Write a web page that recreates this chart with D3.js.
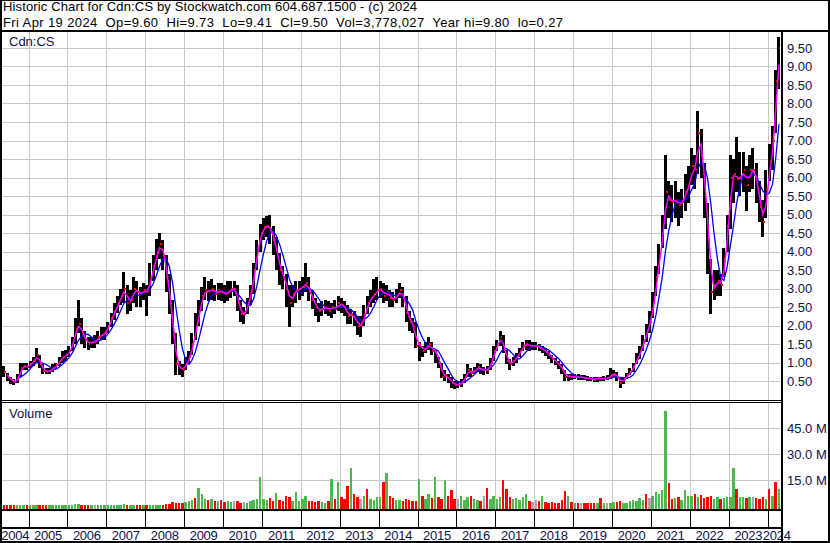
<!DOCTYPE html>
<html><head><meta charset="utf-8">
<script src="https://cdn.jsdelivr.net/npm/d3@7"></script>
<style>body{margin:0;background:#fff}svg{display:block}text{font-family:"Liberation Sans",Arial,sans-serif}</style>
</head><body><svg id="c" width="830" height="543"></svg>
<script>
// ---- DATA (monthly, May 2004 .. Apr 2024) ----
const firstMonth = [2004, 4]; // May 2004 (0-based month)
const yearLabels = ["2004","2005","2006","2007","2008","2009","2010","2011","2012","2013","2014","2015","2016","2017","2018","2019","2020","2021","2022","2023","2024"];
const priceTicks = [0.5,1,1.5,2,2.5,3,3.5,4,4.5,5,5.5,6,6.5,7,7.5,8,8.5,9,9.5];
const volumeTicks = [15,30,45];
const closes = [
 0.75,0.6,0.52,0.47,0.55,0.85,0.9,0.88,
 0.95,1.05,1.2,0.95,0.78,0.75,0.78,0.85,0.92,1.05,1.15,1.2,
 1.3,1.55,1.9,2.05,1.75,1.6,1.5,1.55,1.55,1.7,1.75,1.8,
 2.0,2.2,2.4,2.6,2.8,3.0,2.6,2.7,3.0,2.9,2.85,2.95,
 2.9,3.3,3.6,4.0,4.2,3.9,3.3,2.6,1.7,0.95,0.85,0.8,
 1.0,1.15,1.5,1.95,2.4,2.8,2.95,2.9,3.0,2.85,2.95,2.9,
 2.85,2.9,3.0,3.0,2.6,2.3,2.3,2.6,2.9,3.5,4.1,4.5,
 4.65,4.7,4.6,4.3,3.9,3.5,3.3,3.0,2.6,2.85,2.95,3.0,
 3.05,3.15,2.9,2.7,2.5,2.4,2.45,2.5,2.4,2.5,2.45,2.6,
 2.55,2.45,2.25,2.3,2.2,2.0,2.0,2.3,2.6,2.75,2.85,2.95,
 3.0,2.8,2.9,2.75,2.7,2.8,2.95,2.75,2.35,2.1,2.0,1.45,
 1.5,1.3,1.4,1.5,1.3,1.32,1.0,0.62,0.65,0.55,0.45,0.4,
 0.4,0.45,0.6,0.8,0.72,0.78,0.88,0.8,0.8,0.78,1.0,1.3,
 1.5,1.7,1.35,1.05,0.95,1.05,1.15,1.3,1.45,1.5,1.45,1.45,
 1.45,1.4,1.35,1.28,1.2,1.1,1.02,0.93,0.8,0.62,0.64,0.6,
 0.62,0.6,0.6,0.58,0.57,0.56,0.54,0.58,0.55,0.57,0.57,0.65,
 0.7,0.6,0.45,0.55,0.65,0.75,0.9,1.1,1.3,1.55,1.85,2.1,
 2.6,3.3,3.9,4.6,5.6,5.4,5.35,5.4,5.25,5.35,5.6,5.8,
 6.3,6.2,7.2,6.6,5.5,4.3,2.9,3.1,3.2,3.1,3.8,4.7,
 6.0,6.1,5.95,6.0,6.2,5.8,6.2,6.2,5.8,5.2,4.8,5.7,
 6.4,7.0,8.6,9.5
];
const highs = [
 0.9,0.72,0.62,0.55,0.7,0.98,1.0,1.0,
 1.05,1.15,1.4,1.2,0.95,0.85,0.85,0.95,1.0,1.15,1.3,1.35,
 1.45,1.7,2.2,2.7,2.2,1.85,1.7,1.7,1.75,1.85,1.95,1.95,
 2.1,2.35,2.6,2.8,3.0,3.45,3.1,2.95,3.3,3.2,3.05,3.15,
 3.1,3.7,3.9,4.35,4.5,4.3,3.9,3.4,2.7,1.8,1.05,0.95,
 1.15,1.3,1.8,2.35,2.7,3.05,3.3,3.2,3.25,3.1,3.15,3.15,
 3.1,3.2,3.2,3.2,3.1,2.7,2.5,2.75,3.1,3.7,4.3,4.75,
 4.9,4.95,5.0,4.7,4.4,3.95,3.6,3.4,3.1,3.1,3.2,3.2,
 3.3,3.7,3.3,2.95,2.75,2.6,2.65,2.7,2.65,2.6,2.7,2.8,
 2.75,2.65,2.55,2.45,2.4,2.25,2.25,2.55,2.8,2.95,3.25,3.3,
 3.2,3.15,3.1,2.95,2.9,3.0,3.15,3.05,2.8,2.4,2.2,2.1,
 1.55,1.45,1.55,1.7,1.55,1.35,1.15,1.0,0.8,0.7,0.6,0.5,
 0.5,0.55,0.7,0.95,0.85,0.88,0.98,0.95,0.88,0.9,1.12,1.45,
 1.6,1.85,1.75,1.35,1.1,1.15,1.25,1.4,1.55,1.6,1.6,1.55,
 1.55,1.5,1.45,1.4,1.3,1.2,1.12,1.05,0.95,0.8,0.68,0.68,
 0.68,0.68,0.66,0.65,0.63,0.62,0.6,0.62,0.62,0.63,0.65,0.85,
 0.8,0.75,0.6,0.62,0.72,0.85,1.0,1.25,1.45,1.75,2.05,2.4,
 2.9,3.6,4.2,5.0,6.6,5.9,5.8,5.9,5.6,5.7,6.1,6.3,
 6.8,6.6,7.8,7.3,6.4,5.3,3.8,3.5,3.5,3.4,4.1,5.0,
 6.6,6.5,7.1,6.7,6.7,6.3,6.6,6.8,6.4,5.9,5.4,6.2,
 6.9,7.4,8.9,9.8
];
const lows = [
 0.6,0.5,0.42,0.38,0.45,0.6,0.8,0.8,
 0.85,0.9,1.0,0.85,0.7,0.68,0.7,0.75,0.82,0.9,1.0,1.05,
 1.15,1.3,1.5,1.8,1.5,1.4,1.35,1.4,1.4,1.5,1.6,1.6,
 1.8,1.95,2.15,2.35,2.55,2.6,2.3,2.4,2.6,2.5,2.5,2.7,
 2.25,2.8,3.2,3.5,3.8,3.5,2.9,2.3,1.5,0.65,0.65,0.6,
 0.8,0.95,1.2,1.6,2.0,2.4,2.7,2.65,2.7,2.65,2.7,2.65,
 2.6,2.65,2.75,2.8,2.4,2.1,2.05,2.3,2.55,2.85,3.5,4.0,
 4.3,4.4,4.2,3.9,3.5,3.1,3.0,2.5,1.95,2.5,2.6,2.7,
 2.8,2.9,2.65,2.45,2.25,2.1,2.25,2.3,2.25,2.2,2.3,2.4,
 2.35,2.25,2.05,2.05,2.0,1.75,1.7,2.0,2.3,2.5,2.6,2.7,
 2.75,2.6,2.65,2.5,2.5,2.6,2.75,2.5,2.1,1.85,1.8,1.4,
 1.05,1.15,1.25,1.35,1.2,1.0,0.85,0.58,0.5,0.45,0.32,0.28,
 0.3,0.35,0.45,0.6,0.62,0.68,0.75,0.7,0.65,0.7,0.8,1.05,
 1.3,1.45,1.25,0.95,0.8,0.9,1.0,1.15,1.3,1.35,1.3,1.35,
 1.35,1.3,1.25,1.18,1.1,1.0,0.92,0.82,0.68,0.5,0.5,0.52,
 0.55,0.54,0.53,0.52,0.5,0.5,0.48,0.47,0.5,0.5,0.52,0.55,
 0.6,0.5,0.3,0.42,0.55,0.65,0.75,0.95,1.1,1.3,1.55,1.8,
 2.2,2.8,3.4,4.1,4.6,4.9,4.8,4.9,4.7,4.9,5.1,5.3,
 5.8,5.7,6.1,6.0,4.9,3.4,2.3,2.7,2.8,2.8,3.3,4.0,
 4.6,5.3,5.6,5.5,5.6,5.1,5.6,5.7,5.3,4.8,4.4,4.9,
 5.9,6.2,7.2,8.4
];
// volume in millions of shares (largest weekly volume seen in each month)
const volumes = [
 0.4,0.5,0.6,0.4,0.3,0.5,0.6,0.4,
 0.4,0.3,0.6,0.4,0.3,0.3,0.3,0.4,0.3,0.3,0.4,0.4,
 0.5,0.6,0.9,1.4,0.8,0.6,0.5,0.6,0.4,0.5,0.6,0.8,
 0.6,0.7,0.6,0.8,0.6,0.9,0.7,0.6,0.6,0.5,0.6,0.6,
 0.5,0.6,0.7,0.5,0.8,0.7,0.9,1.4,2.5,2.0,1.5,1.6,
 2.2,3.0,3.5,4.6,10.4,7.0,4.0,3.5,4.0,3.0,3.0,3.5,
 2.5,3.0,2.5,2.8,3.0,2.0,2.5,2.0,3.0,3.5,4.0,17.0,
 4.0,3.5,4.5,3.0,7.5,3.5,3.0,5.5,5.0,3.0,8.0,3.0,
 4.0,5.5,3.0,3.0,2.5,3.0,2.5,2.0,3.0,15.6,4.0,13.7,
 5.0,4.0,11.5,22.0,7.0,5.0,4.0,6.0,9.8,4.0,3.5,5.0,
 5.0,14.0,19.0,5.5,4.5,3.5,3.5,3.0,4.0,3.5,3.0,3.0,
 15.6,6.0,4.0,7.0,4.5,17.0,5.0,4.0,15.0,5.5,9.0,4.0,
 4.0,5.5,3.5,5.0,6.0,4.0,3.5,3.0,5.5,10.4,4.0,6.0,
 4.0,5.0,15.0,10.0,5.0,4.0,4.5,3.5,5.0,7.0,3.0,2.5,
 3.5,3.0,5.8,2.5,2.0,2.5,2.0,2.0,3.5,8.7,6.0,2.5,
 2.0,1.5,2.0,1.5,2.0,1.5,1.5,2.0,4.5,2.0,1.5,2.0,
 2.5,2.5,3.0,2.0,2.0,3.0,3.5,3.0,4.5,3.5,7.0,4.5,
 6.0,8.0,7.0,9.2,55.0,13.0,4.0,4.5,5.0,3.5,9.0,5.5,
 6.0,7.0,5.0,6.5,4.5,5.0,6.0,4.0,5.0,4.0,4.5,5.0,
 5.0,22.0,10.0,5.0,5.0,4.5,5.0,5.0,4.5,4.0,5.0,4.0,
 10.0,6.0,14.0,10.0
];
// volume bar colour: g = up, r = down, n = unchanged
const volumeDirection = (
 "rrrrgggr"+"gggrrrgggggg"+"ggggrrrgnggg"+"ggggggrggrrg"+"rggggrrrrrrr"+
 "gggrgggrgrgr"+"rggnrrnggggg"+"ggrrgrrrrggg"+"ggrrrrggrgrg"+"rrrgrrngrggg"+
 "grgrrggrrrrr"+"grggrgrrgrrr"+"ngggrggrnrgg"+"ggrrrgggggrn"+"nrgrrrrrrrgr"+
 "grnrrrrgrgng"+"grrgggggggrn"+"gggggrrgrggg"+"grgrrrrggrgg"+"ggrggrgnrrrg"+"rgrg").split("");
const headerLine1 = "Historic Chart for Cdn:CS by Stockwatch.com 604.687.1500 - (c) 2024";
const headerLine2 = "Fri Apr 19 2024  Op=9.60  Hi=9.73  Lo=9.41  Cl=9.50  Vol=3,778,027  Year hi=9.80  lo=0.27";

// ---- CHART ----
const W = 830, H = 543;
const svg = d3.select("#c");
const dates = closes.map((_, i) => new Date(firstMonth[0], firstMonth[1] + i, 15));
const data = dates.map((d, i) => ({d, c: closes[i], h: highs[i], l: lows[i], v: volumes[i], dir: volumeDirection[i]}));

const x = d3.scaleTime().domain([new Date(2004, 3, 27), new Date(2024, 3, 20)]).range([2, 779.5]);
const y = d3.scaleLinear().domain([0, 10]).range([399.5, 29.5]);
const yv = d3.scaleLinear().domain([0, 45]).range([506, 428]);

const plotL = 2, plotR = 780, pTop = 31.5, pBot = 400, vTop = 403, vBot = 509;
const navy = "#10104a";
const grid = "#c8c8c8";

svg.append("rect").attr("width", W).attr("height", H).attr("fill", "#fff");

const defs = svg.append("defs");
defs.append("clipPath").attr("id", "pclip").append("rect")
  .attr("x", plotL).attr("y", pTop).attr("width", plotR - plotL).attr("height", pBot - pTop);

// gridlines
const gPrice = svg.append("g").attr("shape-rendering", "crispEdges");
gPrice.selectAll("line.h").data(priceTicks).join("line")
  .attr("x1", plotL).attr("x2", plotR)
  .attr("y1", d => Math.round(y(d)) + 0.5).attr("y2", d => Math.round(y(d)) + 0.5)
  .attr("stroke", grid);
const yearStarts = yearLabels.slice(1).map(s => new Date(+s, 0, 1));
gPrice.selectAll("line.v").data(yearStarts).join("line")
  .attr("x1", d => Math.round(x(d)) + 0.5).attr("x2", d => Math.round(x(d)) + 0.5)
  .attr("y1", pTop).attr("y2", pBot).attr("stroke", grid);
gPrice.selectAll("line.vv").data(yearStarts).join("line")
  .attr("x1", d => Math.round(x(d)) + 0.5).attr("x2", d => Math.round(x(d)) + 0.5)
  .attr("y1", vTop).attr("y2", vBot).attr("stroke", grid);
gPrice.selectAll("line.hv").data(volumeTicks).join("line")
  .attr("x1", plotL).attr("x2", plotR)
  .attr("y1", d => Math.round(yv(d)) + 0.5).attr("y2", d => Math.round(yv(d)) + 0.5)
  .attr("stroke", grid);

// price bars
const gBars = svg.append("g").attr("clip-path", "url(#pclip)").attr("shape-rendering", "crispEdges");
gBars.selectAll("rect.bar").data(data).join("rect")
  .attr("x", d => x(d.d) - 1.5).attr("width", 3)
  .attr("y", d => y(d.h)).attr("height", d => Math.max(1, y(d.l) - y(d.h)))
  .attr("fill", "#000");
gBars.selectAll("rect.cl").data(data).join("rect")
  .attr("x", d => x(d.d) + 0.4).attr("width", 1.8)
  .attr("y", d => y(d.c) - 1).attr("height", 2)
  .attr("fill", "#ff0000");

// moving averages
function sma(arr, n) { return arr.map((v, i) => i < n - 1 ? null : d3.mean(arr.slice(i - n + 1, i + 1))); }
const maShort = sma(closes, 2), maLong = sma(closes, 5);
const lineGen = d3.line().defined(d => d[1] != null).x(d => x(d[0])).y(d => y(d[1]));
const gMA = svg.append("g").attr("clip-path", "url(#pclip)");
gMA.append("path").attr("d", lineGen(dates.map((d, i) => [d, maLong[i]])))
  .attr("fill", "none").attr("stroke", "#0000ff").attr("stroke-width", 1.3);
gMA.append("path").attr("d", lineGen(dates.map((d, i) => [d, maShort[i]])))
  .attr("fill", "none").attr("stroke", "#ff00ff").attr("stroke-width", 1.5);

// volume bars
const volColor = {g: "#4db84d", r: "#ff0000", n: "#a8a8a8"};
svg.append("g").attr("shape-rendering", "crispEdges")
  .selectAll("rect").data(data).join("rect")
  .attr("x", d => x(d.d) - 1.2).attr("width", 2.4)
  .attr("y", d => yv(d.v)).attr("height", d => vBot - yv(d.v))
  .attr("fill", d => volColor[d.dir]);

// frames and separators
const frame = svg.append("g").attr("shape-rendering", "crispEdges");
function hline(yy, x1, x2, w) { frame.append("line").attr("x1", x1).attr("x2", x2).attr("y1", yy).attr("y2", yy).attr("stroke", "#000").attr("stroke-width", w); }
function vline(xx, y1, y2, w) { frame.append("line").attr("x1", xx).attr("x2", xx).attr("y1", y1).attr("y2", y2).attr("stroke", "#000").attr("stroke-width", w); }
hline(0.5, 0, W, 1);
hline(30.5, 0, W, 2);
hline(400.5, 0, 782, 1);
hline(402.5, 0, 782, 1);
hline(510, 0, 782, 2);
hline(527.5, 0, 782, 2);
hline(542, 0, W, 2);
vline(1, 0, H, 2);
vline(829, 0, H, 2);
// year ticks in the axis band
frame.selectAll("line.yt").data(yearStarts).join("line")
  .attr("x1", d => Math.round(x(d)) + 0.5).attr("x2", d => Math.round(x(d)) + 0.5)
  .attr("y1", 511).attr("y2", 527).attr("stroke", "#000").attr("stroke-width", 1.5);

// texts
svg.append("text").attr("x", 3).attr("y", 11.3).attr("font-size", 13).attr("fill", "#000")
  .attr("textLength", 414).attr("lengthAdjust", "spacing").text(headerLine1);
svg.append("text").attr("x", 3).attr("y", 26.6).attr("font-size", 13).attr("fill", "#000")
  .style("white-space", "pre").attr("textLength", 560).attr("lengthAdjust", "spacing").text(headerLine2);
svg.append("text").attr("x", 9).attr("y", 46).attr("font-size", 13).attr("fill", navy).text("Cdn:CS");
svg.append("text").attr("x", 9).attr("y", 418).attr("font-size", 13).attr("fill", navy).text("Volume");

svg.append("g").selectAll("text").data(priceTicks).join("text")
  .attr("x", 787).attr("y", d => y(d) + 4.7).attr("font-size", 13).attr("fill", navy)
  .text(d => d3.format(".2f")(d));
svg.append("g").selectAll("text").data(volumeTicks).join("text")
  .attr("x", 787).attr("y", d => yv(d) + 5).attr("font-size", 13).attr("fill", navy)
  .text(d => d3.format(".1f")(d) + " M");

// year labels centred in each year's span; a label that would collide with the
// previous one is placed right after it (as the last, partial year is)
const spanStart = [x.domain()[0], ...yearStarts];
const spanEnd = [...yearStarts, x.domain()[1]];
const yl = svg.append("g").selectAll("text").data(yearLabels).join("text")
  .attr("y", 539.5).attr("font-size", 13).attr("fill", navy)
  .style("letter-spacing", "-0.25px")
  .text(d => d);
let prevRight = -Infinity;
yl.each(function(d, i) {
  const w = this.getComputedTextLength();
  let left = (x(spanStart[i]) + x(spanEnd[i])) / 2 - w / 2;
  if (left < prevRight + 0.5) left = prevRight + 0.5;
  d3.select(this).attr("x", left);
  prevRight = left + w;
});

// right border of plot (drawn on top)
vline(781.5, 30, H, 2);
</script></body></html>
